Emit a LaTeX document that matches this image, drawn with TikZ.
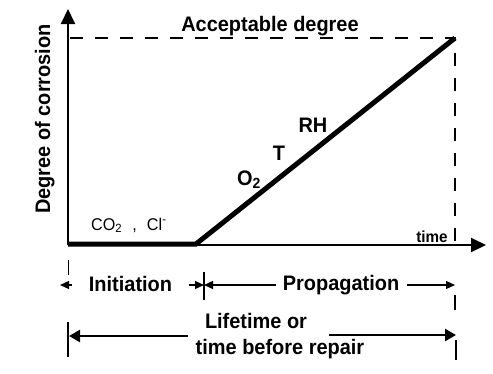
\documentclass[tikz,border=0pt]{standalone}
\usepackage{fontspec}
\setmainfont{Liberation Sans}[FakeStretch=0.95]
\usetikzlibrary{arrows.meta}
\tikzset{%
    axisline/.style={line width=2pt, -{Triangle[length=15pt,width=14pt]}},
    limit/.style={line width=2.5pt, dash pattern=on 13pt off 12pt},
    span/.style={line width=1.2pt, -{Triangle[length=9pt,width=8pt]}},
    bigspan/.style={line width=2.5pt, -{Triangle[length=11pt,width=12pt]}},
    lbl/.style={font=\fontsize{21}{23}\selectfont\bfseries, inner sep=0pt, anchor=base},
}

\begin{document}
\begin{tikzpicture}[x=1pt,y=-1pt]
    \useasboundingbox (0,0) rectangle (493,373);
    % axes and curve
    \coordinate (o) at (68,245);
    \coordinate (ytip) at (68,9);
    \coordinate (xtip) at (486,245);
    \coordinate (start) at (196,244);
    \coordinate (top) at (455,38);
    \coordinate (ylim) at (70,38);
    \coordinate (xlim) at (455,245);
    \draw[axisline] (o) -- (ytip);
    \draw[axisline] (o) -- (xtip);
    \draw[line width=5pt] (68,244) -- (start) -- (top);
    \draw[limit] (ylim) -- (top) -- (xlim);
	\node[lbl] (accept) at (270,31) {Acceptable degree};
	\node[lbl, rotate=90] (ylabel) at (50,119) {Degree of corrosion};
	\node[lbl] (rh) at (313,132) {RH};
	\node[lbl] (t) at (279,160) {T};
	\node[lbl] (o2) at (249,185) {O\textsubscript{2}};
	\node[inner sep=0pt, anchor=base west, font=\fontsize{17}{20}\selectfont] (agents) at (91,230) {CO\textsubscript{2}\,\, ,\,\, Cl\textsuperscript{-}};
	\node[lbl, font=\fontsize{16}{18}\selectfont\bfseries] (time) at (432,242) {time};
    % initiation and propagation
    \coordinate (i0) at (60,285);
    \coordinate (i0s) at (72,285);
    \coordinate (i1) at (204,285);
    \coordinate (i1s) at (189,285);
    \coordinate (p0s) at (276,285);
    \coordinate (p1s) at (407,285);
    \coordinate (p1) at (455,285);
    \draw[line width=0.8pt] (68,260) -- (68,275);
    \draw[line width=1.2pt] (204,272) -- (204,300);
    \draw[line width=1.5pt] (455,295) -- (455,310);
    \draw[span] (i0s) -- (i0);
    \draw[span] (i1s) -- (i1);
    \draw[span] (p0s) -- (i1);
    \draw[span] (p1s) -- (p1);
	\node[lbl] (init) at (130.5,291) {Initiation};
	\node[lbl] (prop) at (341,290) {Propagation};
    % lifetime
    \coordinate (l0) at (69,336);
    \coordinate (l0s) at (188,336);
    \coordinate (l1s) at (329,335);
    \coordinate (l1) at (456,335);
    \draw[line width=2.5pt] (68,322) -- (68,357);
    \draw[line width=2.5pt] (456,340) -- (456,360);
    \draw[bigspan] (l0s) -- (l0);
    \draw[bigspan] (l1s) -- (l1);
	\node[lbl] (life) at (256,328) {Lifetime or};
	\node[lbl] (repair) at (280,354) {time before repair};
\end{tikzpicture}
\end{document}
